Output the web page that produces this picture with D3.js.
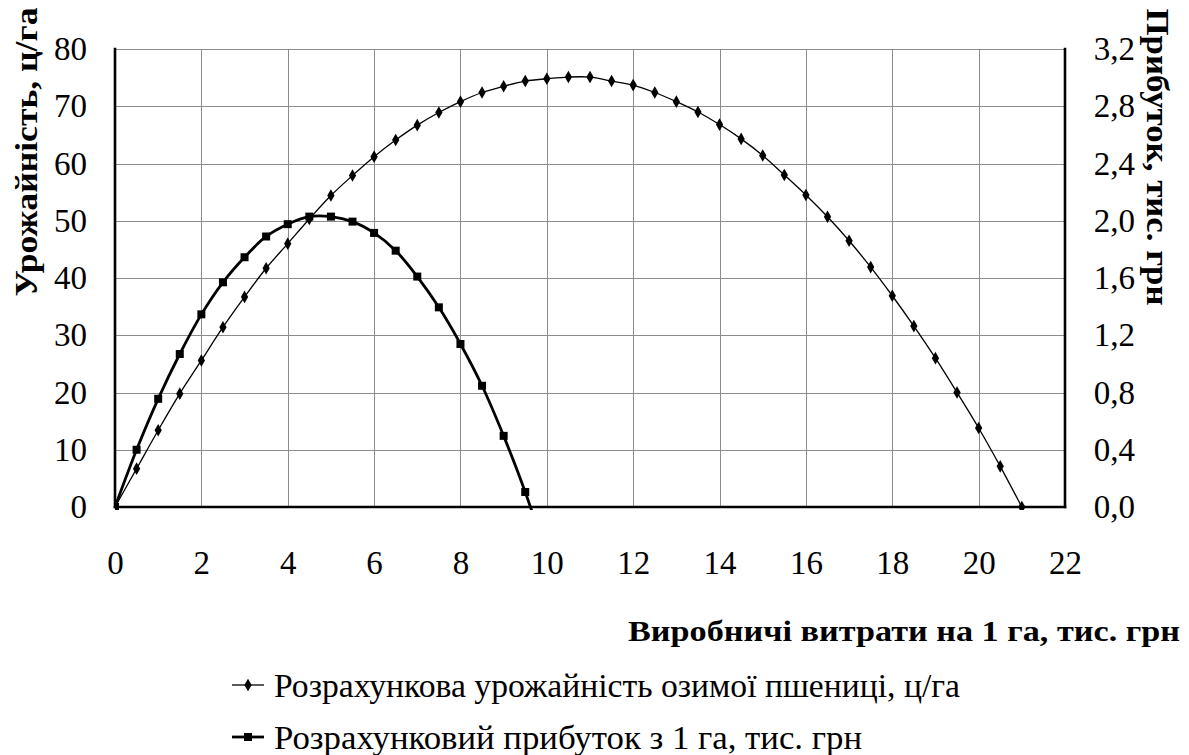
<!DOCTYPE html>
<html>
<head>
<meta charset="utf-8">
<script src="https://cdn.jsdelivr.net/npm/d3@7"></script>
<style>
  body { margin: 0; background: #fff; }
</style>
</head>
<body>
<svg id="chart" width="1189" height="755"></svg>
<script>
const costX = [0, 0.5, 1, 1.5, 2, 2.5, 3, 3.5, 4, 4.5, 5, 5.5, 6, 6.5, 7, 7.5, 8, 8.5, 9, 9.5, 10,
    10.5, 11, 11.5, 12, 12.5, 13, 13.5, 14, 14.5, 15, 15.5, 16, 16.5, 17, 17.5, 18, 18.5, 19, 19.5, 20, 20.5, 21];
const yieldValues = [0, 6.7, 13.4, 19.8, 25.6, 31.4, 36.7, 41.7, 46.0, 50.3, 54.4, 57.9, 61.2, 64.1, 66.7,
    68.9, 70.8, 72.4, 73.5, 74.4, 74.8, 75.1, 75.1, 74.4, 73.7, 72.4, 70.8, 69.0, 66.8, 64.3, 61.4, 58.0,
    54.5, 50.7, 46.5, 41.9, 36.9, 31.6, 26.0, 20.0, 13.8, 7.1, 0];
const profitX = [0, 0.5, 1, 1.5, 2, 2.5, 3, 3.5, 4, 4.5, 5, 5.5, 6, 6.5, 7, 7.5, 8, 8.5, 9, 9.5, 10];
const profitValues = [0, 0.40, 0.756, 1.069, 1.346, 1.570, 1.745, 1.890, 1.976, 2.029, 2.029, 1.994,
    1.915, 1.791, 1.610, 1.395, 1.139, 0.847, 0.497, 0.105, -0.35];

const xTicks = [0, 2, 4, 6, 8, 10, 12, 14, 16, 18, 20, 22];
const leftTicks = [0, 10, 20, 30, 40, 50, 60, 70, 80];
const rightTicks = [0, 0.4, 0.8, 1.2, 1.6, 2.0, 2.4, 2.8, 3.2];

const leftTitle = "Урожайність, ц/га";
const rightTitle = "Прибуток, тис. грн";
const xTitle = "Виробничі витрати на 1 га, тис. грн";
const legendLabels = ["Розрахункова урожайність озимої пшениці, ц/га", "Розрахунковий прибуток з 1 га, тис. грн"];

const FONT = "Liberation Serif";

const svg = d3.select("#chart").attr("font-family", FONT);
const plot = { left: 115, right: 1065, top: 49, bottom: 507 };

const x = d3.scaleLinear().domain([0, 22]).range([plot.left, plot.right]);
const yLeft = d3.scaleLinear().domain([0, 80]).range([plot.bottom, plot.top]);
const yRight = d3.scaleLinear().domain([0, 3.2]).range([plot.bottom, plot.top]);
const fmtRight = v => d3.format(".1f")(v).replace(".", ",");

svg.append("defs").append("clipPath").attr("id", "plotclip").
append("rect").
attr("x", plot.left).attr("y", plot.top - 5).
attr("width", plot.right - plot.left).attr("height", plot.bottom - plot.top + 8);

// grid
const grid = svg.append("g").attr("stroke", "#8c8c8c").attr("stroke-width", 1);
grid.selectAll("line.h").data(leftTicks.filter(d => d > 0)).join("line").
attr("class", "h").
attr("x1", plot.left).attr("x2", plot.right).
attr("y1", d => Math.round(yLeft(d)) + 0.5).attr("y2", d => Math.round(yLeft(d)) + 0.5);
grid.selectAll("line.v").data(xTicks.filter(d => d > 0 && d < 22)).join("line").
attr("class", "v").
attr("y1", plot.top).attr("y2", plot.bottom).
attr("x1", d => Math.round(x(d)) + 0.5).attr("x2", d => Math.round(x(d)) + 0.5);

// axes (no tick marks, just labels)
const axisLeft = svg.append("g").
attr("transform", `translate(${plot.left},0)`).
call(d3.axisLeft(yLeft).tickValues(leftTicks).tickSize(0).tickPadding(28));
const axisRight = svg.append("g").
attr("transform", `translate(${plot.right},0)`).
call(d3.axisRight(yRight).tickValues(rightTicks).tickSize(0).tickPadding(70).tickFormat(fmtRight));
const axisBottom = svg.append("g").
attr("transform", `translate(0,${plot.bottom})`).
call(d3.axisBottom(x).tickValues(xTicks).tickSize(0).tickPadding(44));

[axisLeft, axisRight, axisBottom].forEach(g => {
    g.attr("font-family", FONT).attr("font-size", 33);
    g.select(".domain").remove();
    g.selectAll("text").attr("font-family", FONT).attr("font-size", 33).attr("fill", "#000");
});
axisRight.selectAll("text").attr("text-anchor", "end");

// series
const yieldData = costX.map((d, i) => ({ x: d, y: yieldValues[i] }));
const profitData = profitX.map((d, i) => ({ x: d, y: profitValues[i] }));

const series = svg.append("g").attr("clip-path", "url(#plotclip)");

series.append("path").
datum(yieldData).
attr("fill", "none").
attr("stroke", "#000").
attr("stroke-width", 1.3).
attr("d", d3.line().x(d => x(d.x)).y(d => yLeft(d.y)).curve(d3.curveCatmullRom));

series.append("path").
datum(profitData).
attr("fill", "none").
attr("stroke", "#000").
attr("stroke-width", 2.8).
attr("d", d3.line().x(d => x(d.x)).y(d => yRight(d.y)).curve(d3.curveCatmullRom));

const diamond = d3.symbol().type(d3.symbolDiamond).size(46);
series.selectAll("path.diamond").data(yieldData).join("path").
attr("class", "diamond").
attr("transform", d => `translate(${x(d.x)},${yLeft(d.y)})`).
attr("d", diamond()).
attr("fill", "#000");

series.selectAll("rect.square").data(profitData.filter(d => d.y >= 0)).join("rect").
attr("class", "square").
attr("x", d => x(d.x) - 4).
attr("y", d => yRight(d.y) - 4).
attr("width", 8).attr("height", 8).
attr("fill", "#000");

// axis lines
const frame = svg.append("g").attr("stroke", "#000").attr("stroke-width", 2.6).attr("stroke-linecap", "square");
frame.append("line").attr("x1", plot.left).attr("x2", plot.left).attr("y1", plot.top).attr("y2", plot.bottom);
frame.append("line").attr("x1", plot.right).attr("x2", plot.right).attr("y1", plot.top).attr("y2", plot.bottom);
frame.append("line").attr("x1", plot.left).attr("x2", plot.right).attr("y1", plot.bottom).attr("y2", plot.bottom);

// titles
svg.append("text").
attr("transform", "translate(37,152) rotate(-90)").
attr("text-anchor", "middle").
attr("font-family", FONT).
attr("font-size", 32).
attr("font-weight", "bold").
attr("textLength", 289).
attr("lengthAdjust", "spacingAndGlyphs").
text(leftTitle);

svg.append("text").
attr("transform", "translate(1147,157) rotate(90)").
attr("text-anchor", "middle").
attr("font-family", FONT).
attr("font-size", 32).
attr("font-weight", "bold").
attr("textLength", 297).
attr("lengthAdjust", "spacingAndGlyphs").
text(rightTitle);

svg.append("text").
attr("x", 628).
attr("y", 641).
attr("font-family", FONT).
attr("font-size", 30).
attr("font-weight", "bold").
attr("textLength", 552).
attr("lengthAdjust", "spacingAndGlyphs").
text(xTitle);

// legend
const legend = svg.append("g");
const legendY = [685, 737];
const legendLen = [686, 588];

legendY.forEach((ly, i) => {
    legend.append("line").
    attr("x1", 232).attr("x2", 264).
    attr("y1", ly).attr("y2", ly).
    attr("stroke", "#000").
    attr("stroke-width", i === 0 ? 1.3 : 2.8);
    if (i === 0) {
        legend.append("path").
        attr("transform", `translate(248,${ly})`).
        attr("d", diamond()).
        attr("fill", "#000");
    } else {
        legend.append("rect").
        attr("x", 244).attr("y", ly - 4).
        attr("width", 8).attr("height", 8).
        attr("fill", "#000");
    }
    legend.append("text").
    attr("x", 274).
    attr("y", ly + 12).
    attr("font-family", FONT).
    attr("font-size", 34).
    attr("textLength", legendLen[i]).
    attr("lengthAdjust", "spacingAndGlyphs").
    text(legendLabels[i]);
});
</script>
</body>
</html>
